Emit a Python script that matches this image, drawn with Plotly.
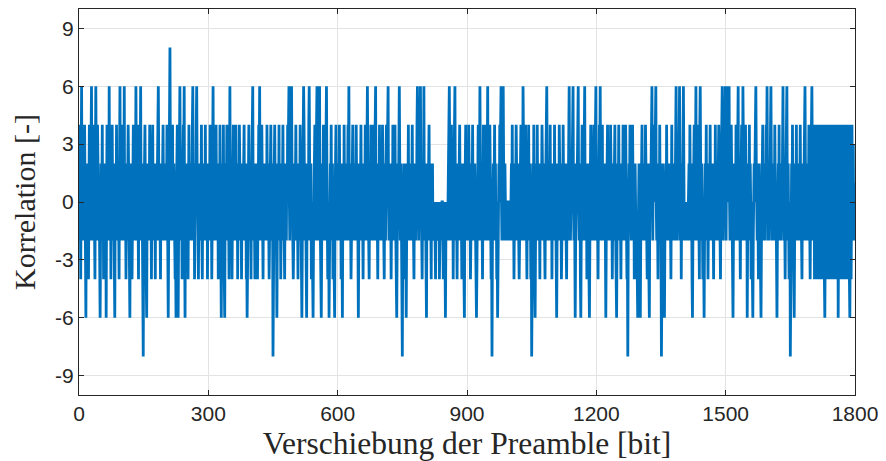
import plotly.graph_objects as go

# Correlation values, one digit per bit shift: digit d -> value 2*d - 8
# (0:-8, 1:-6, 2:-4, 3:-2, 4:0, 5:2, 6:4, 7:6, 8:8), 50 shifts per row
rows = [
    "6354257435 4536431453 5424653457 4354634257 5436453421",
    "3544635245 4351463453 7435245643 5421453644 3542574364",
    "5346473542 4534654314 5342456345 3475346425 4357435230",
    "3546432145 4354653424 5634534254 3546743542 4534564353",
    "4534632135 6854354634 5342314564 1346754352 4565731435",
    "4352464354 3546743524 5467534245 3454632453 4536443524",
    "5344653425 6743543564 3452453643 1345463214 5346453424",
    "7435424563 4534643524 5364453245 3456344523 1345643542",
    "4567435423 4534245657 4354634254 3544536435 4234564354",
    "0345643521 3454635424 5346453245 4354656743 5467534234",
    "5346435424 3546532134 5764352314 5436754352 4321345643",
    "5675435674 3213454634 5346754234 1345463452 3421456435",
    "4354643524 3145364453 4534657435 4234564354 5346435213",
    "4534643542 4354653467 5432454634 5346435674 3542453643",
    "4534654324 5346456743 4534245364 3546432134 5467534534",
    "0324543521 3454635434 5346453245 4354675435 4675342453",
    "7435231453 4564354254 5343443243 4343342343 4344324343",
    "1343435467 4354634524 5674354245 3456435423 4532145643",
    "5434653424 3546435453 4213456435 7543542463 4534643574",
    "3546432303 4534645342 3134546567 4356754354 3434344343",
    "4345463542 4534654353 4234564354 7543546342 4536435424",
    "0345463213 4536445342 5434653453 4245675344 3546345243",
    "5436453213 4543645342 3546435453 4245346754 3454567435",
    "2134546574 3452134645 3567434524 5432134654 3544634567",
    "4354245657 4354634534 5213456435 4346534245 3546432134",
    "5464354243 5463453464 3230345465 4354643524 5342321345",
    "4213546435 4534654324 5321454657 4354645674 3542453643",
    "3034543213 4536454354 3542463453 4534675434 5467435243",
    "5675343434 3434453643 5421345643 5743546342 6754354243",
    "1345463542 4534643543 5424536435 4354653424 5674354567",
    "4356574574 3546432134 5434653467 4354245643 7543546435",
    "1345463542 4321345465 7543542453 4213456435 4354657435",
    "4354675435 4534643421 3454635434 5467435424 5674354234",
    "0345463521 3454635434 5346453245 4356754354 3546432456",
    "7543562632 6425632642 5624632562 1365246236 2563264263",
    "6246325624 6136256246 2563264265 2636246213 625634",
]
tail_values = [3, -2, 1, -1, 0]

correlation = [2 * int(c) - 8 for r in rows for c in r.replace(" ", "")] + tail_values
shift = list(range(len(correlation)))

x_ticks = [0, 300, 600, 900, 1200, 1500, 1800]
y_ticks = [-9, -6, -3, 0, 3, 6, 9]
y_tick_labels = ["-9", "-6", "-3", "0", "3", "6", "9"]

fig = go.Figure()
fig.add_trace(go.Scatter(
    x=shift, y=correlation, mode="lines",
    line=dict(color="#0072BD", width=2.8),
    showlegend=False, hoverinfo="skip",
))

axis_common = dict(
    showline=True, linecolor="#262626", linewidth=1,
    mirror="allticks", ticks="inside", ticklen=5, tickwidth=1,
    tickcolor="#262626", showgrid=True, gridcolor="#e3e3e3", gridwidth=1,
    zeroline=False,
    tickfont=dict(family="Liberation Sans, Arial, sans-serif", size=21, color="#262626"),
)

fig.update_layout(
    width=886, height=461,
    margin=dict(l=71, r=39, t=1, b=74),
    paper_bgcolor="white", plot_bgcolor="white",
    xaxis=dict(
        range=[0, 1800], tickvals=x_ticks, **axis_common,
        title=dict(text="Verschiebung der Preamble [bit]", standoff=7,
                   font=dict(family="Liberation Serif, Times New Roman, serif", size=31.5, color="#262626")),
    ),
    yaxis=dict(
        range=[-10, 10], tickvals=y_ticks, ticktext=y_tick_labels, **axis_common,
        title=dict(text="Korrelation [-]", standoff=10,
                   font=dict(family="Liberation Serif, Times New Roman, serif", size=30, color="#262626")),
    ),
)

fig.write_html("out.html")
